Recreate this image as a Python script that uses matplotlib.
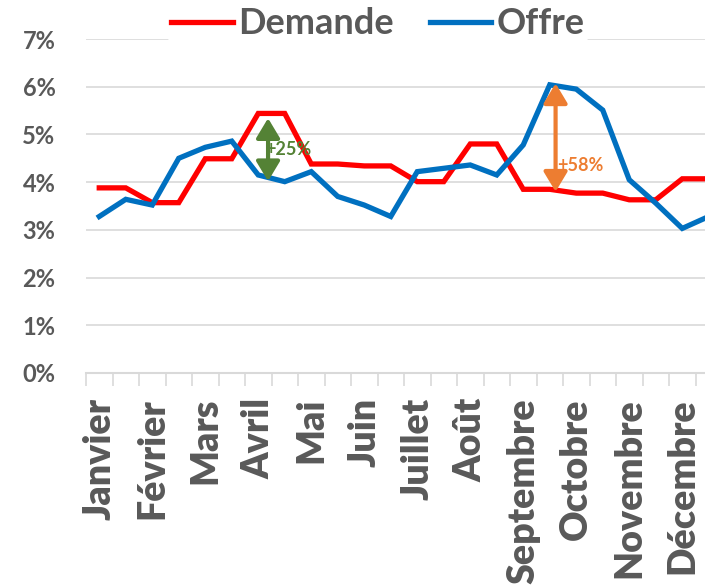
import numpy as np
import matplotlib
matplotlib.use('Agg')
from matplotlib import pyplot as plt

# data (values in %)
months = ['Janvier', 'Février', 'Mars', 'Avril', 'Mai', 'Juin', 'Juillet',
          'Août', 'Septembre', 'Octobre', 'Novembre', 'Décembre']
demande_month = [3.88, 3.57, 4.49, 5.44, 4.38, 4.34, 4.01, 4.80, 3.85, 3.77, 3.63, 4.07]
offre = [3.28, 3.64, 3.52, 4.50, 4.73, 4.86, 4.15, 4.01, 4.22, 3.70, 3.52, 3.28,
         4.22, 4.29, 4.36, 4.15, 4.78, 6.04, 5.95, 5.51, 4.05, 3.56, 3.03, 3.28]
y_ticks = [0, 1, 2, 3, 4, 5, 6, 7]

# annotations: position (half-month index), low / high end, label
annot_x = [6.37, 17.22]
annot_lo = [4.02, 3.80]
annot_hi = [5.34, 6.07]
annot_text = ['+25%', '+58%']
annot_text_x = [6.25, 17.27]
annot_text_y = [4.68, 4.34]
annot_color = ['#548235', '#ED7D31']

demande = np.repeat(demande_month, 2)
x = np.arange(len(offre))

plt.rcParams['font.family'] = ['Lato', 'DejaVu Sans']
grey = '#595959'

fig = plt.figure(figsize=(7.05, 5.86), dpi=100)
ax = fig.add_axes([86 / 705, 1 - 373 / 586, 636 / 705, 334 / 586])

l1, = ax.plot(x, demande, color='#FF0000', lw=3.8, solid_joinstyle='miter', zorder=3, label='Demande')
l2, = ax.plot(x, offre, color='#0070C0', lw=3.8, solid_joinstyle='miter', zorder=3, label='Offre')

for xa, lo, hi, t, tx, ty, c in zip(annot_x, annot_lo, annot_hi, annot_text,
                                     annot_text_x, annot_text_y, annot_color):
    ax.text(tx, ty, t, color=c, fontsize=13, fontweight='bold', ha='left', va='center', zorder=4)
    ax.annotate('', xy=(xa, hi), xytext=(xa, lo),
                arrowprops=dict(arrowstyle='<|-|>,head_length=0.6,head_width=0.36',
                                color=c, lw=3, mutation_scale=20, shrinkA=0, shrinkB=0),
                zorder=5)

ax.set_xlim(-0.5, len(offre) - 0.5)
ax.set_ylim(0, 7)
ax.set_yticks(y_ticks)
ax.set_yticklabels([f'{v}%' for v in y_ticks])
ax.grid(axis='y', color='#d9d9d9', lw=1.2, zorder=0)
ax.tick_params(axis='y', length=0, pad=22, labelsize=17, labelcolor=grey)
for lab in ax.get_yticklabels():
    lab.set_fontweight('bold')

ax.set_xticks(np.arange(0, len(offre), 2))
ax.set_xticklabels(months, rotation=90, fontsize=27, fontweight='heavy', color=grey, va='top')
ax.set_xticks(np.arange(-0.5, len(offre), 1), minor=True)
ax.tick_params(axis='x', which='major', length=0, pad=18)
ax.tick_params(axis='x', which='minor', length=9, width=1.2, color='#d9d9d9')

for s in ['top', 'right', 'left']:
    ax.spines[s].set_visible(False)
ax.spines['bottom'].set_color('#d9d9d9')
ax.spines['bottom'].set_linewidth(1.5)

leg = fig.legend(handles=[l1, l2], loc='center', bbox_to_anchor=(0.536, 1 - 24 / 586),
                 ncol=2, fontsize=26, handlelength=1.7, handletextpad=0.15,
                 columnspacing=1.0, frameon=True, facecolor='white', edgecolor='none',
                 framealpha=1, borderpad=0.1)
for t in leg.get_texts():
    t.set_fontweight('bold')
    t.set_color(grey)

fig.savefig('out.png', dpi=100)
